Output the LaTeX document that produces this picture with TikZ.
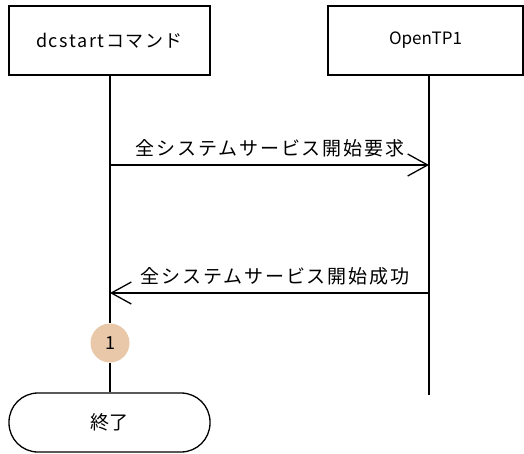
\documentclass[tikz,border=0pt]{standalone}
\usepackage{fontspec}
\setmainfont{Noto Sans CJK JP}
\usetikzlibrary{arrows.meta}
\definecolor{stepfill}{RGB}{232,200,168}
\tikzset{
  objbox/.style={draw, line width=1.3pt, minimum width=201pt, minimum height=69pt, inner sep=0pt, font=\fontsize{17}{20}\selectfont},
  lifeline/.style={line width=1.3pt},
  msg/.style={line width=1.3pt, -{Straight Barb[length=20pt,width=22pt,line width=1.3pt]}},
  msglabel/.style={font=\fontsize{19}{22}\selectfont\addfontfeature{LetterSpace=10}},
  stepmark/.style={circle, fill=stepfill, minimum size=39pt, inner sep=0pt, font=\fontsize{18}{21}\selectfont},
  termbox/.style={draw, line width=1.3pt, rounded corners=29pt, minimum width=201pt, minimum height=59pt, inner sep=0pt, font=\fontsize{19}{22}\selectfont}
}
\begin{document}
\begin{tikzpicture}[x=1pt,y=-1pt]
\useasboundingbox (0,0) rectangle (524,453);
\node[objbox, font=\fontsize{18}{21}\selectfont\addfontfeature{LetterSpace=9}] (cmd) at (109.5,40.5) {dcstartコマンド};
\node[objbox, minimum width=195pt] (otp) at (425.5,40.5) {OpenTP1};
\node[termbox] (end) at (109.5,422.5) {終了};
\node[stepmark] (s1) at (110,343) {1};
\coordinate (otpend) at (429,395);
\coordinate (a1s) at (110,165);
\coordinate (a1e) at (429,165);
\coordinate (a2s) at (429,293);
\coordinate (a2e) at (110,293);
\draw[lifeline] (cmd.south -| s1) -- (s1.north);
\draw[lifeline] (s1.south) -- (s1 |- end.north);
\draw[lifeline] (otp.south -| otpend) -- (otpend);
\draw[msg] (a1s) -- (a1e);
\draw[msg] (a2s) -- (a2e);
\node[msglabel] (l1) at (270,148) {全システムサービス開始要求};
\node[msglabel] (l2) at (275,276) {全システムサービス開始成功};
\end{tikzpicture}
\end{document}
